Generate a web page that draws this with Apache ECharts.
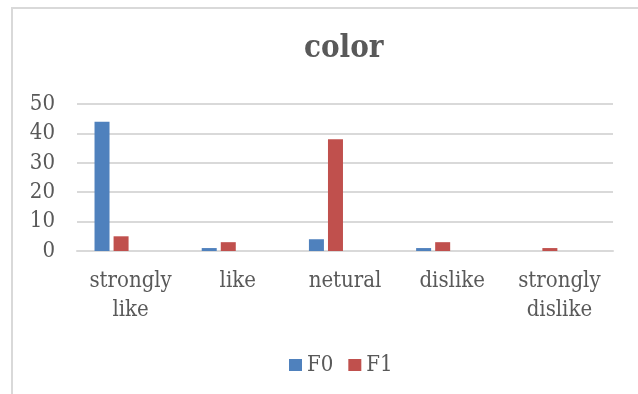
<!DOCTYPE html>
<html>
<head>
<meta charset="utf-8">
<script src="https://cdn.jsdelivr.net/npm/echarts@6/dist/echarts.min.js"></script>
<style>
  html, body { margin: 0; padding: 0; background: #fff; }
  #chart { width: 638px; height: 394px; }
</style>
</head>
<body>
<div id="chart"></div>
<script>
// Survey answers about colour, counted per group
const categories = ['strongly\nlike', 'like', 'netural', 'dislike', 'strongly\ndislike'];
const f0Values = [44, 1, 4, 1, 0];
const f1Values = [5, 3, 38, 3, 1];
// Two further columns of the sheet hold no answers but still take a slot in each group
const f2Values = [];
const f3Values = [];
const yTicks = { min: 0, max: 50, interval: 10 };

const FONT = '"DejaVu Serif Condensed", "DejaVu Serif", serif';
const TEXT = '#595959';
const GRID = '#d9d9d9';

const chart = echarts.init(document.getElementById('chart'), null, { renderer: 'canvas' });

function bar(name, data, color) {
  return {
    name: name,
    type: 'bar',
    data: data,
    barWidth: 15,
    barGap: '27%',
    itemStyle: { color: color },
    emphasis: { disabled: true }
  };
}

chart.setOption({
  animation: false,
  backgroundColor: '#ffffff',
  title: {
    text: 'color',
    left: 299,
    top: 28,
    textStyle: { fontFamily: FONT, fontWeight: 'bold', fontSize: 31, color: TEXT }
  },
  legend: {
    data: ['F0', 'F1'],
    bottom: 13,
    left: 284,
    itemWidth: 13,
    itemHeight: 12,
    itemGap: 15,
    icon: 'rect',
    textStyle: { fontFamily: FONT, fontSize: 22, color: TEXT }
  },
  grid: { left: 77, right: 25, top: 104, bottom: 143, containLabel: false },
  xAxis: {
    type: 'category',
    data: categories,
    axisLine: { show: true, lineStyle: { color: GRID, width: 2 } },
    axisTick: { show: false },
    axisLabel: {
      fontFamily: FONT, fontSize: 22, color: TEXT, lineHeight: 29, margin: 16,
      interval: 0
    }
  },
  yAxis: {
    type: 'value',
    min: yTicks.min,
    max: yTicks.max,
    interval: yTicks.interval,
    axisLine: { show: false },
    axisTick: { show: false },
    splitLine: { lineStyle: { color: GRID, width: 2 } },
    axisLabel: { fontFamily: FONT, fontSize: 22, color: TEXT, margin: 22 }
  },
  graphic: [{
    type: 'polyline',
    silent: true,
    shape: { points: [[12, 394], [12, 8], [638, 8]] },
    style: { stroke: GRID, lineWidth: 2, fill: null }
  }],
  series: [
    bar('F0', f0Values, '#4f81bd'),
    bar('F1', f1Values, '#c0504d'),
    bar('F2', f2Values, '#9bbb59'),
    bar('F3', f3Values, '#8064a2')
  ]
});
</script>
</body>
</html>
